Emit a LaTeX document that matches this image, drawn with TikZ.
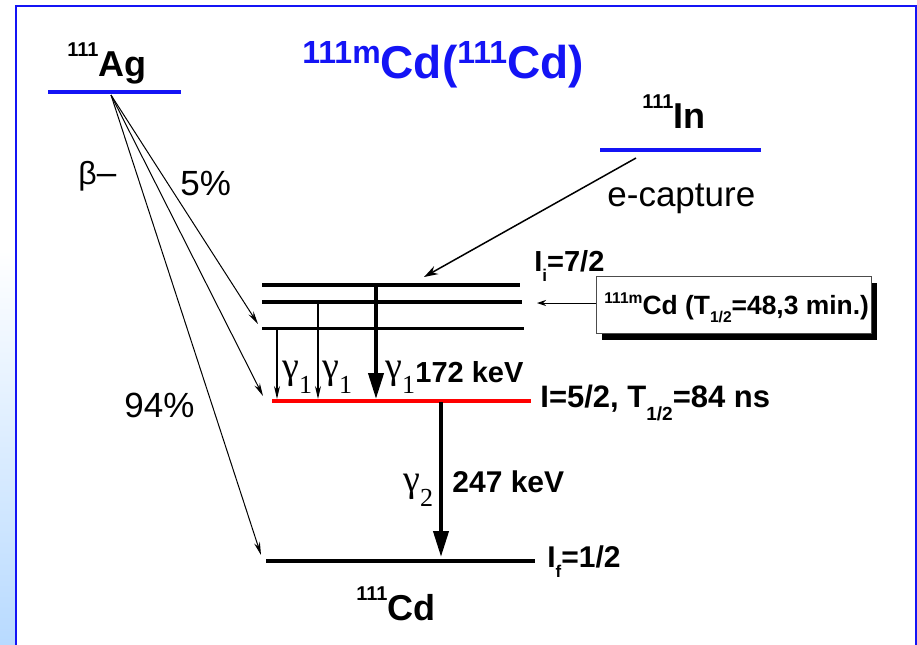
\documentclass[tikz,border=0pt]{standalone}
\usepackage{fontspec}
\setmainfont{Liberation Sans}
\newfontfamily\serifg{Liberation Serif}
\usetikzlibrary{arrows.meta,shadows}
\newcommand\fsz[1]{\fontsize{#1}{#1}\selectfont}
\newcommand\iso[2]{\raisebox{10pt}{\fsz{10pt}#1}#2}
\newcommand\gam[1]{{\serifg\fsz{19pt}γ}\raisebox{-7.5pt}{\serifg\fsz{13pt}#1}}
\definecolor{mblue}{RGB}{20,20,245}
\definecolor{lblue}{RGB}{184,218,255}
\tikzset{
  bluelev/.style={draw=mblue,line width=2pt},
  blacklev/.style={draw=black,line width=#1},
  thinarr/.style={-{Stealth[length=6.5pt,width=3pt]}, line width=0.5pt},
  thickarr/.style={-{Triangle[length=13pt,width=7.5pt]}, line width=2pt},
  lab/.style={anchor=base west, inner sep=0pt, font=\bfseries\fsz{15pt}},
  nuc/.style={anchor=base west, inner sep=0pt, font=\bfseries\fsz{18pt}},
  txt/.style={anchor=base west, inner sep=0pt, font=\fsz{17.5pt}},
}
\begin{document}
\begin{tikzpicture}[x=0.5pt,y=-0.5pt]
\useasboundingbox (0,0) rectangle (917,644);
% background / frame
\fill[white] (0,0) rectangle (917,644);
\shade[top color=white, bottom color=lblue] (0,250) rectangle (16,644);
\begin{scope}
\clip (0,0) rectangle (917,644);
\draw[mblue, line width=1pt] (16,6) rectangle (916,700);
\end{scope}

% title
\node[anchor=base west, inner sep=0pt, text=mblue, font=\bfseries\fsz{23pt}] (title) at (302,78)
  {\raisebox{7.5pt}{\fsz{16pt}111m}Cd(\raisebox{7.5pt}{\fsz{16pt}111}Cd)};

% nuclide labels
\node[nuc] (agl) at (67,76) {\iso{111}{Ag}};
\node[nuc] (inl) at (642,128) {\iso{111}{In}};
\node[nuc] (cdl) at (356,620) {\iso{111}{Cd}};

% parent levels
\coordinate (agL) at (48,92);  \coordinate (agR) at (181,92);
\coordinate (inL) at (600,150); \coordinate (inR) at (761,150);
\draw[bluelev] (agL) -- (agR);
\draw[bluelev] (inL) -- (inR);

% Cd levels
\coordinate (l1L) at (262,285); \coordinate (l1R) at (520,285);
\coordinate (l2L) at (262,302); \coordinate (l2R) at (522,302);
\coordinate (l3L) at (262,328); \coordinate (l3R) at (524,328);
\coordinate (rdL) at (272,401); \coordinate (rdR) at (531,401);
\coordinate (btL) at (266,561); \coordinate (btR) at (535,561);
\draw[blacklev=2.25pt] (l1L) -- (l1R);
\draw[blacklev=1.75pt] (l2L) -- (l2R);
\draw[blacklev=1.5pt] (l3L) -- (l3R);
\draw[red, line width=2pt] (rdL) -- (rdR);
\draw[blacklev=2pt] (btL) -- (btR);

% beta decay arrows
\coordinate (ag0) at (111,95);
\coordinate (t3) at (258,324);
\coordinate (tr) at (263,396);
\coordinate (tb) at (261,555);
\draw[thinarr] (ag0) -- (t3);
\draw[thinarr] (ag0) -- (tr);
\draw[thinarr] (ag0) -- (tb);
\node[anchor=base west, inner sep=0pt] (beta) at (78,184) {{\fsz{16pt}β}{\fsz{17.5pt}–}};
\node[txt] (p5) at (180,195) {5\%};
\node[txt] (p94) at (124,417) {94\%};

% electron capture
\coordinate (ec0) at (636,158);
\coordinate (ec1) at (424,277);
\draw[-{Stealth[length=7pt,width=4.5pt]}, line width=0.75pt] (ec0) -- (ec1);
\node[txt] (ecl) at (607,206) {e-capture};

% isomer box
\node[draw=black!70, line width=0.5pt, fill=white, minimum width=137.5pt, minimum height=28.5pt,
      inner sep=0pt, drop shadow={shadow xshift=3pt, shadow yshift=-3.5pt, fill=black, opacity=1}]
      (box) at (733.5,304.5) {};
\node[anchor=base west, inner sep=0pt, font=\bfseries\fsz{13.2pt}] (boxt) at (604,314)
  {\raisebox{5.5pt}{\fsz{7.8pt}111m}Cd (T\raisebox{-4pt}{\fsz{7.8pt}1/2}=48,3 min.)};
\coordinate (bxa) at (537,303);
\draw[-{Stealth[length=4.5pt,width=3pt]}, line width=0.5pt] (box.west |- bxa) -- (bxa);

% gamma transitions
\coordinate (g1as) at (277,330); \coordinate (g1ae) at (277,399);
\coordinate (g1bs) at (318,303); \coordinate (g1be) at (318,399);
\coordinate (g1cs) at (376,285); \coordinate (g1ce) at (376,399);
\coordinate (g2s) at (441,402); \coordinate (g2e) at (441,557);
\draw[thinarr, line width=0.6pt] (g1as) -- (g1ae);
\draw[thinarr, line width=0.6pt] (g1bs) -- (g1be);
\draw[thickarr] (g1cs) -- (g1ce);
\draw[thickarr] (g2s) -- (g2e);
\node[anchor=base west, inner sep=0pt] (gl1) at (282,378) {\gam{1}};
\node[anchor=base west, inner sep=0pt] (gl2) at (322,378) {\gam{1}};
\node[anchor=base west, inner sep=0pt] (gl3) at (385,378) {\gam{1}};
\node[lab, font=\bfseries\fsz{14.5pt}] (e172) at (415,382) {172 keV};
\node[anchor=base west, inner sep=0pt] (gl4) at (403,491) {\gam{2}};
\node[lab] (e247) at (452,492) {247 keV};

% level labels
\node[lab, font=\bfseries\fsz{14.5pt}] (li) at (534,271) {I\raisebox{-5pt}{\fsz{8.5pt}i}=7/2};
\node[lab, font=\bfseries\fsz{15.5pt}] (lm) at (540,407) {I=5/2, T\raisebox{-6.5pt}{\fsz{9.5pt}1/2}=84 ns};
\node[lab] (lf) at (547,567) {I\raisebox{-5pt}{\fsz{8.5pt}f}=1/2};
\end{tikzpicture}
\end{document}
